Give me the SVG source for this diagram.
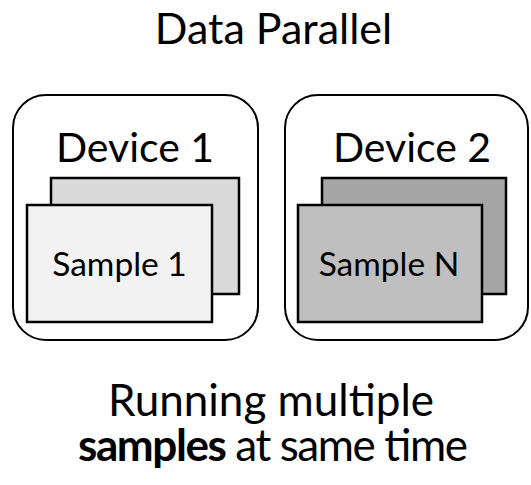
<svg xmlns="http://www.w3.org/2000/svg" width="531" height="485" viewBox="0 0 531 485">
  <style>
    text { font-family: Lato, "Open Sans", "Liberation Sans", sans-serif; fill: #000; text-anchor: middle; }
    .device { fill: #fff; stroke: #000; stroke-width: 2; }
    .card { stroke: #000; stroke-width: 2.5; }
    .title { font-size: 43px; }
    .dev-label { font-size: 41px; }
    .sample-label { font-size: 33.5px; }
    .caption { font-size: 44px; }
  </style>
  <rect width="531" height="485" fill="#fff"/>

  <text class="title" x="273.5" y="44">Data Parallel</text>

  <g id="device1">
    <rect class="device" x="13" y="95" width="245" height="245" rx="33"/>
    <text class="dev-label" x="135" y="162">Device 1</text>
    <rect class="card" x="51" y="178" width="188" height="116" fill="#d9d9d9"/>
    <rect class="card" x="27" y="205" width="185" height="117" fill="#f2f2f2"/>
    <text class="sample-label" x="119.5" y="276">Sample 1</text>
  </g>

  <g id="device2">
    <rect class="device" x="285" y="95" width="243" height="245" rx="33"/>
    <text class="dev-label" x="412" y="162">Device 2</text>
    <rect class="card" x="322" y="178" width="184" height="116" fill="#a6a6a6"/>
    <rect class="card" x="298" y="205" width="184" height="117" fill="#bfbfbf"/>
    <text class="sample-label" x="389" y="276">Sample N</text>
  </g>

  <g id="connectors"/>

  <text class="caption" x="271" y="416">Running multiple</text>
  <text class="caption" x="273" y="461" textLength="390" lengthAdjust="spacing"><tspan font-weight="bold">samples</tspan> at same time</text>
</svg>
